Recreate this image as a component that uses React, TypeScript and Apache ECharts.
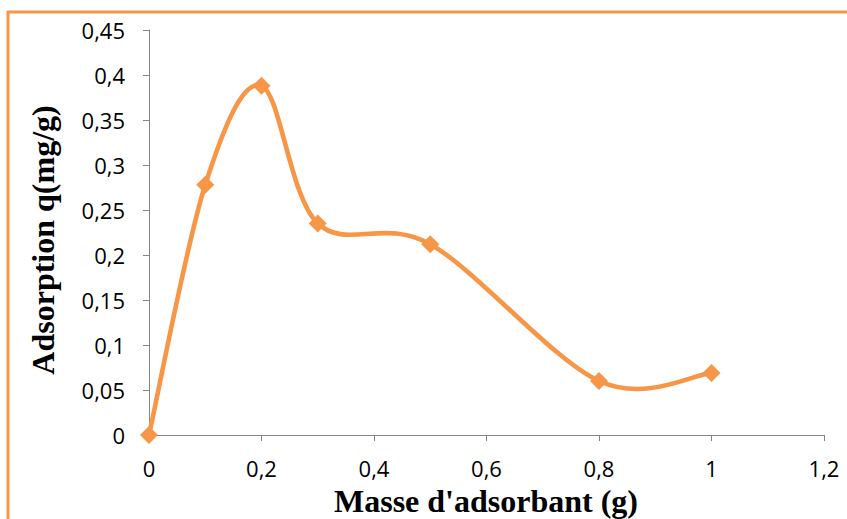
import React, { useEffect, useRef } from "react";
import * as echarts from "echarts";

const masse = [0, 0.1, 0.2, 0.3, 0.5, 0.8, 1];
const adsorption = [0, 0.278, 0.388, 0.235, 0.212, 0.06, 0.069];
const xTitle = "Masse d'adsorbant (g)";
const yTitle = "Adsorption q(mg/g)";

const ORANGE = "#F79646";
const AXIS = "#868686";

const fmt = (v: number) => String(Math.round(v * 100) / 100).replace(".", ",");

const points = masse.map((x, i) => [x, adsorption[i]]);

export default function App() {
  const ref = useRef<HTMLDivElement>(null);
  useEffect(() => {
    document.body.style.margin = "0";
    const chart = echarts.init(ref.current!, undefined, { renderer: "svg" });
    const n = points.length;
    const renderItem = (params: any, api: any) => {
      const i = params.dataIndex;
      if (i >= n - 1) return null;
      const c = (k: number) => api.coord(points[Math.max(0, Math.min(n - 1, k))]);
      const p0 = c(i - 1);
      const p1 = c(i);
      const p2 = c(i + 1);
      const p3 = c(i + 2);
      return {
        type: "bezierCurve",
        shape: {
          x1: p1[0],
          y1: p1[1],
          x2: p2[0],
          y2: p2[1],
          cpx1: p1[0] + (p2[0] - p0[0]) / 6,
          cpy1: p1[1] + (p2[1] - p0[1]) / 6,
          cpx2: p2[0] - (p3[0] - p1[0]) / 6,
          cpy2: p2[1] - (p3[1] - p1[1]) / 6,
        },
        style: { stroke: ORANGE, lineWidth: 4.6, fill: "none", lineCap: "round" },
      };
    };
    chart.setOption({
      animation: false,
      backgroundColor: "#ffffff",
      grid: { left: 149, top: 30, right: 23, bottom: 84 },
      xAxis: {
        type: "value",
        min: 0,
        max: 1.2,
        interval: 0.2,
        splitLine: { show: false },
        axisLine: { show: true, onZero: false, lineStyle: { color: AXIS, width: 1 } },
        axisTick: { show: true, length: 6, lineStyle: { color: AXIS } },
        axisLabel: {
          formatter: (v: number) => fmt(v),
          fontFamily: "Open Sans",
          fontSize: 22,
          color: "#000",
          margin: 22,
        },
      },
      yAxis: {
        type: "value",
        min: 0,
        max: 0.45,
        interval: 0.05,
        splitLine: { show: false },
        axisLine: { show: true, lineStyle: { color: AXIS, width: 1 } },
        axisTick: { show: true, length: 6, lineStyle: { color: AXIS } },
        axisLabel: {
          formatter: (v: number) => fmt(v),
          fontFamily: "Open Sans",
          fontSize: 22,
          color: "#000",
          margin: 24,
        },
      },
      graphic: [
        {
          type: "line",
          shape: { x1: 7, y1: 12, x2: 847, y2: 12 },
          style: { stroke: ORANGE, lineWidth: 3 },
        },
        {
          type: "line",
          shape: { x1: 8, y1: 11, x2: 8, y2: 519 },
          style: { stroke: ORANGE, lineWidth: 3 },
        },
        {
          type: "text",
          x: 486,
          y: 501,
          style: {
            text: xTitle,
            font: "bold 32px 'Liberation Serif'",
            fill: "#000",
            textAlign: "center",
            textVerticalAlign: "middle",
          },
        },
        {
          type: "text",
          x: 43,
          y: 240,
          rotation: Math.PI / 2,
          style: {
            text: yTitle,
            font: "bold 32px 'Liberation Serif'",
            fill: "#000",
            textAlign: "center",
            textVerticalAlign: "middle",
          },
        },
      ],
      series: [
        {
          type: "custom",
          coordinateSystem: "cartesian2d",
          data: points,
          encode: { x: 0, y: 1 },
          renderItem,
          z: 2,
          silent: true,
        },
        {
          type: "scatter",
          data: points,
          symbol: "diamond",
          symbolSize: 18,
          itemStyle: { color: ORANGE, opacity: 1 },
          z: 3,
        },
      ],
    });
    return () => chart.dispose();
  }, []);
  return (
    <div
      ref={ref}
      style={{ position: "absolute", left: 0, top: 0, width: 847, height: 519 }}
    />
  );
}
